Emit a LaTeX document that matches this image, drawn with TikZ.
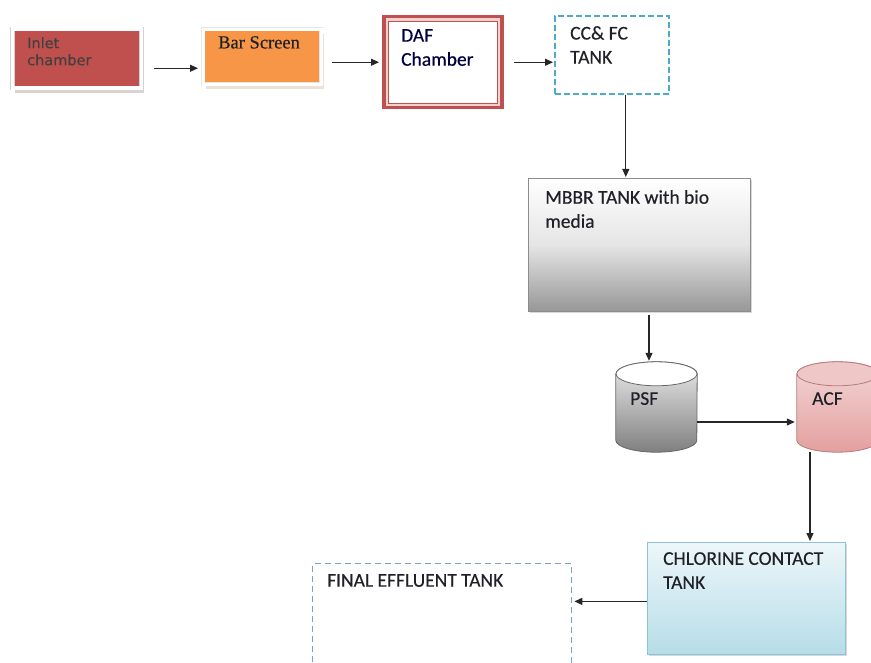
\documentclass[tikz,border=0pt]{standalone}
\usepackage{fontspec}
\setmainfont{Carlito}[FakeBold=0.35]
\newfontfamily\inletfont{DejaVu Sans}[FakeBold=0.2]
\newfontfamily\barfont{Liberation Serif}[FakeBold=0.3]
\usetikzlibrary{shadows,arrows.meta}
\definecolor{inletred}{HTML}{C0504D}
\definecolor{barorange}{HTML}{F79646}
\definecolor{dafred}{HTML}{C0504D}
\definecolor{ccblue}{HTML}{4BACC6}
\definecolor{mbbrgray}{HTML}{979797}
\definecolor{chlblue}{HTML}{B6DDE8}
\definecolor{chledge}{HTML}{8CC4D6}
\definecolor{finalblue}{HTML}{7F9FCF}
\definecolor{acfpink}{HTML}{E29A9A}
\definecolor{txt}{HTML}{202028}
% cylinder drawn on the frame of a named node
\newcommand{\tankbody}[4]{%
  \shade[#2,draw=#3,line width=.8pt]
    ([yshift=-12pt]#1.north west) -- ([yshift=12pt]#1.south west)
    arc[start angle=180,end angle=0,x radius=40.5,y radius=12]
    -- ([yshift=-12pt]#1.north east)
    arc[start angle=0,end angle=-180,x radius=40.5,y radius=12] -- cycle;
  \filldraw[fill=#4,draw=#3,line width=.8pt]
    ([yshift=-12pt]#1.north) ellipse[x radius=40.5,y radius=12];
}
\begin{document}
\begin{tikzpicture}[x=1pt,y=-1pt,
  box/.style={anchor=north west,inner sep=0pt},
  word/.style={anchor=north west,inner sep=0pt,align=left,text=txt,
    font=\fontsize{19.5}{24}\selectfont},
  flow/.style={-{Triangle[length=8pt,width=7pt]},line width=1.2pt,draw=black!85},
  tank/.style={minimum width=81pt,minimum height=90pt,inner sep=0pt}]
\useasboundingbox (0,0) rectangle (871,663);
% top row
\node[box,minimum width=129,minimum height=59,fill=inletred,draw=black!18,double=white,
  double distance=3.5pt,line width=.5pt,
  drop shadow={shadow xshift=2.5pt,shadow yshift=-5pt,fill=inletred!40!black!40}] (inlet) at (12,29) {};
\node[box,minimum width=118,minimum height=55,fill=barorange,draw=black!10,double=white,
  double distance=3pt,line width=.4pt,
  drop shadow={shadow xshift=2.5pt,shadow yshift=-5pt,fill=barorange!55!black!35}] (bar) at (203,29) {};
\node[box,minimum width=118,minimum height=91,draw=dafred,fill=dafred!25,line width=3.5pt,
  path picture={\filldraw[draw=dafred,fill=white,line width=1.2pt]
    ([shift={(4.5,4.5)}]path picture bounding box.north west) rectangle
    ([shift={(-4.5,-4.5)}]path picture bounding box.south east);}] (daf) at (382,15) {};
\node[box,minimum width=114,minimum height=78,draw=ccblue,line width=1.6pt,
  dash pattern=on 6pt off 3pt] (cc) at (554,15) {};
% tanks
\node[box,minimum width=222,minimum height=133,top color=white,bottom color=mbbrgray,
  middle color=white!75!mbbrgray,draw=black!45,
  drop shadow={shadow xshift=1.5pt,shadow yshift=-1.5pt,fill=black!30}] (mbbr) at (528,178) {};
\node[tank] (psf) at (656.5,407) {};
\node[tank] (acf) at (837.5,407) {};
\tankbody{psf}{top color=black!8,bottom color=black!50}{black!60}{white}
\tankbody{acf}{top color=acfpink!40,bottom color=acfpink!95}{acfpink!80!black}{acfpink!55}
\node[box,minimum width=198,minimum height=112,top color=chlblue!25,bottom color=chlblue,
  draw=chledge,line width=.8pt,
  drop shadow={shadow xshift=1.5pt,shadow yshift=-1.5pt,fill=black!30}] (chl) at (647,542) {};
\node[box,minimum width=259,minimum height=120,draw=finalblue,line width=1.4pt,
  dash pattern=on 6pt off 4pt] (final) at (312,563) {};
% texts
\node[word,font=\inletfont\fontsize{14.5}{17}\selectfont,text=black!75] (inlettext)
  at ([shift={(15,8)}]inlet.north west) {Inlet\\chamber};
\node[word,font=\barfont\fontsize{18.5}{24}\selectfont] (bartext)
  at ([shift={(15,7)}]bar.north west) {Bar Screen};
\node[word,text=blue!25!black] (daftext) at ([shift={(19,14)}]daf.north west) {DAF\\Chamber};
\node[word] (cctext) at ([shift={(16,11)}]cc.north west) {CC\& FC\\TANK};
\node[word] (mbbrtext) at ([shift={(17,12)}]mbbr.north west) {MBBR TANK with bio\\media};
\node[word] (psftext) at ([shift={(-26.5,-15)}]psf.center) {PSF};
\node[word] (acftext) at ([shift={(-25.5,-15)}]acf.center) {ACF};
\node[word] (chltext) at ([shift={(16,10)}]chl.north west) {CHLORINE CONTACT\\TANK};
\node[word] (finaltext) at ([shift={(15,11)}]final.north west) {FINAL EFFLUENT TANK};
% connectors
\coordinate (p1) at ([yshift=-9.5pt]inlet.east);
\draw[flow,shorten <=12pt,shorten >=5pt] (p1) -- (p1 -| bar.west);
\draw[flow,shorten <=11pt,shorten >=3pt] (daf.west -| bar.east) -- (daf.west);
\draw[flow,shorten <=10pt,shorten >=1pt] (daf.east) -- (daf.east -| cc.west);
\coordinate (p4) at ([xshift=14pt]cc.south);
\draw[flow,shorten >=1pt] (p4) -- (p4 |- mbbr.north);
\coordinate (p5) at ([xshift=-7.5pt]psf.north);
\draw[flow,shorten <=4pt,shorten >=1pt] (p5 |- mbbr.south) -- (p5);
\coordinate (p6) at ([yshift=-15pt]psf.east);
\draw[flow,shorten >=2pt] (p6) -- (p6 -| acf.west);
\coordinate (p7) at ([xshift=-27.5pt]acf.south);
\draw[flow,shorten >=1pt] (p7) -- (p7 |- chl.north);
\coordinate (p8) at ([yshift=-3pt]chl.west);
\draw[flow,shorten >=2pt] (p8) -- (p8 -| final.east);
\end{tikzpicture}
\end{document}
